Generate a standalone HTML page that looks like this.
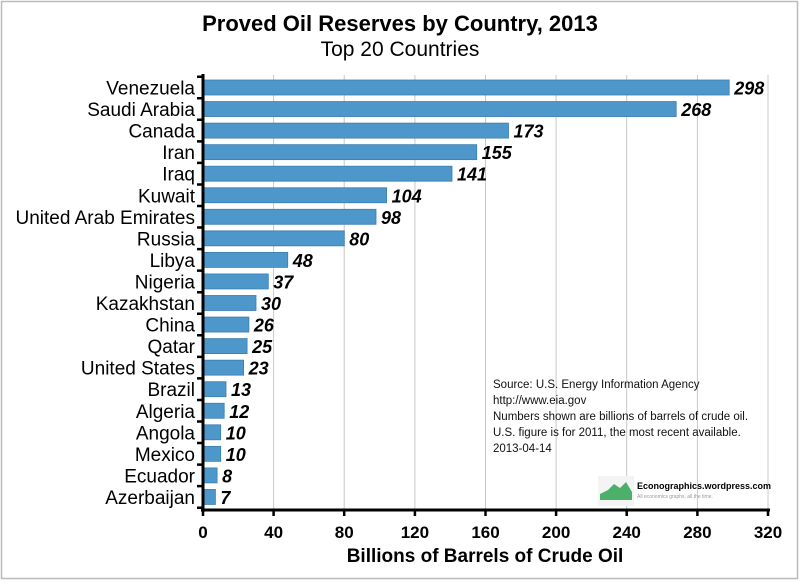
<!DOCTYPE html>
<html><head><meta charset="utf-8"><style>
body{margin:0;background:#fff;}
svg{display:block;font-family:"Liberation Sans",Arial,sans-serif;}
.b{fill:#4d97cb;stroke:#3a7fb0;stroke-width:0.8}
.n{font-size:19px;text-anchor:end}
.v{font-size:18px;font-weight:bold;font-style:italic}
</style></head><body>
<svg width="800" height="582" viewBox="0 0 800 582">
<rect x="1.5" y="1.5" width="796" height="577" fill="#fff" stroke="#bbb" stroke-width="1.5"/>
<text x="400" y="31" text-anchor="middle" font-size="22" font-weight="bold">Proved Oil Reserves by Country, 2013</text>
<text x="400" y="56" text-anchor="middle" font-size="21">Top 20 Countries</text>
<g stroke="#c8c8c8" stroke-width="1">
<line x1="273.6" y1="75" x2="273.6" y2="510"/><line x1="344.2" y1="75" x2="344.2" y2="510"/><line x1="414.9" y1="75" x2="414.9" y2="510"/><line x1="485.5" y1="75" x2="485.5" y2="510"/><line x1="556.1" y1="75" x2="556.1" y2="510"/><line x1="626.7" y1="75" x2="626.7" y2="510"/><line x1="697.4" y1="75" x2="697.4" y2="510"/><line x1="768" y1="75" x2="768" y2="510"/>
</g>
<g transform="translate(0,87.5)"><rect class="b" x="203" y="-7.5" width="526.2" height="15"/><text class="n" x="195" y="7">Venezuela</text><text class="v" x="734.2" y="7">298</text></g>
<g transform="translate(0,109.05)"><rect class="b" x="203" y="-7.5" width="473.2" height="15"/><text class="n" x="195" y="7">Saudi Arabia</text><text class="v" x="681.2" y="7">268</text></g>
<g transform="translate(0,130.6)"><rect class="b" x="203" y="-7.5" width="305.5" height="15"/><text class="n" x="195" y="7">Canada</text><text class="v" x="513.5" y="7">173</text></g>
<g transform="translate(0,152.15)"><rect class="b" x="203" y="-7.5" width="273.7" height="15"/><text class="n" x="195" y="7">Iran</text><text class="v" x="481.7" y="7">155</text></g>
<g transform="translate(0,173.7)"><rect class="b" x="203" y="-7.5" width="249" height="15"/><text class="n" x="195" y="7">Iraq</text><text class="v" x="457" y="7">141</text></g>
<g transform="translate(0,195.25)"><rect class="b" x="203" y="-7.5" width="183.6" height="15"/><text class="n" x="195" y="7">Kuwait</text><text class="v" x="391.6" y="7">104</text></g>
<g transform="translate(0,216.8)"><rect class="b" x="203" y="-7.5" width="173" height="15"/><text class="n" x="195" y="7">United Arab Emirates</text><text class="v" x="381" y="7">98</text></g>
<g transform="translate(0,238.35)"><rect class="b" x="203" y="-7.5" width="141.3" height="15"/><text class="n" x="195" y="7">Russia</text><text class="v" x="349.3" y="7">80</text></g>
<g transform="translate(0,259.9)"><rect class="b" x="203" y="-7.5" width="84.75" height="15"/><text class="n" x="195" y="7">Libya</text><text class="v" x="292.8" y="7">48</text></g>
<g transform="translate(0,281.45)"><rect class="b" x="203" y="-7.5" width="65.3" height="15"/><text class="n" x="195" y="7">Nigeria</text><text class="v" x="273.3" y="7">37</text></g>
<g transform="translate(0,303)"><rect class="b" x="203" y="-7.5" width="53" height="15"/><text class="n" x="195" y="7">Kazakhstan</text><text class="v" x="261" y="7">30</text></g>
<g transform="translate(0,324.55)"><rect class="b" x="203" y="-7.5" width="45.9" height="15"/><text class="n" x="195" y="7">China</text><text class="v" x="253.9" y="7">26</text></g>
<g transform="translate(0,346.1)"><rect class="b" x="203" y="-7.5" width="44.1" height="15"/><text class="n" x="195" y="7">Qatar</text><text class="v" x="252.1" y="7">25</text></g>
<g transform="translate(0,367.65)"><rect class="b" x="203" y="-7.5" width="40.6" height="15"/><text class="n" x="195" y="7">United States</text><text class="v" x="248.6" y="7">23</text></g>
<g transform="translate(0,389.2)"><rect class="b" x="203" y="-7.5" width="23" height="15"/><text class="n" x="195" y="7">Brazil</text><text class="v" x="231" y="7">13</text></g>
<g transform="translate(0,410.75)"><rect class="b" x="203" y="-7.5" width="21.2" height="15"/><text class="n" x="195" y="7">Algeria</text><text class="v" x="229.2" y="7">12</text></g>
<g transform="translate(0,432.3)"><rect class="b" x="203" y="-7.5" width="17.7" height="15"/><text class="n" x="195" y="7">Angola</text><text class="v" x="225.7" y="7">10</text></g>
<g transform="translate(0,453.85)"><rect class="b" x="203" y="-7.5" width="17.7" height="15"/><text class="n" x="195" y="7">Mexico</text><text class="v" x="225.7" y="7">10</text></g>
<g transform="translate(0,475.4)"><rect class="b" x="203" y="-7.5" width="14.1" height="15"/><text class="n" x="195" y="7">Ecuador</text><text class="v" x="222.1" y="7">8</text></g>
<g transform="translate(0,496.95)"><rect class="b" x="203" y="-7.5" width="12.4" height="15"/><text class="n" x="195" y="7">Azerbaijan</text><text class="v" x="220.4" y="7">7</text></g>
<line x1="203" y1="74" x2="203" y2="512" stroke="#000" stroke-width="3"/>
<line x1="201" y1="510" x2="770" y2="510" stroke="#000" stroke-width="3"/>
<path stroke="#000" stroke-width="2.5" fill="none" d="M197 76.7H204M197 98.25H204M197 119.8H204M197 141.35H204M197 162.9H204M197 184.45H204M197 206H204M197 227.55H204M197 249.1H204M197 270.65H204M197 292.2H204M197 313.75H204M197 335.3H204M197 356.85H204M197 378.4H204M197 399.95H204M197 421.5H204M197 443.05H204M197 464.6H204M197 486.15H204M197 507.7H204M203 509V516M273.6 509V516M344.2 509V516M414.9 509V516M485.5 509V516M556.1 509V516M626.7 509V516M697.4 509V516M768 509V516"/>
<g font-size="17" font-weight="bold" text-anchor="middle">
<text x="203" y="538">0</text><text x="273.6" y="538">40</text><text x="344.2" y="538">80</text><text x="414.9" y="538">120</text><text x="485.5" y="538">160</text><text x="556.1" y="538">200</text><text x="626.7" y="538">240</text><text x="697.4" y="538">280</text><text x="768" y="538">320</text>
</g>
<text x="485" y="562" text-anchor="middle" font-size="19" font-weight="bold">Billions of Barrels of Crude Oil</text>
<g font-size="11.5" fill="#111">
<text x="493" y="388">Source:  U.S. Energy Information Agency</text>
<text x="493" y="404">http://www.eia.gov</text>
<text x="493" y="420">Numbers shown are billions of barrels of crude oil.</text>
<text x="493" y="436">U.S. figure is for 2011, the most recent available.</text>
<text x="493" y="452">2013-04-14</text>
</g>
<rect x="598" y="476" width="36" height="30" fill="#f4f4f4"/>
<path d="M600 494 L608 490 L614 484 L620 488 L626 482 L632 492 L632 500 L600 500Z" fill="#4caf6a"/>
<text x="637" y="489" font-size="9" font-weight="bold">Econographics.wordpress.com</text>
<text x="637" y="498" font-size="5" fill="#999">All economics graphs, all the time.</text>
</svg>
</body></html>
